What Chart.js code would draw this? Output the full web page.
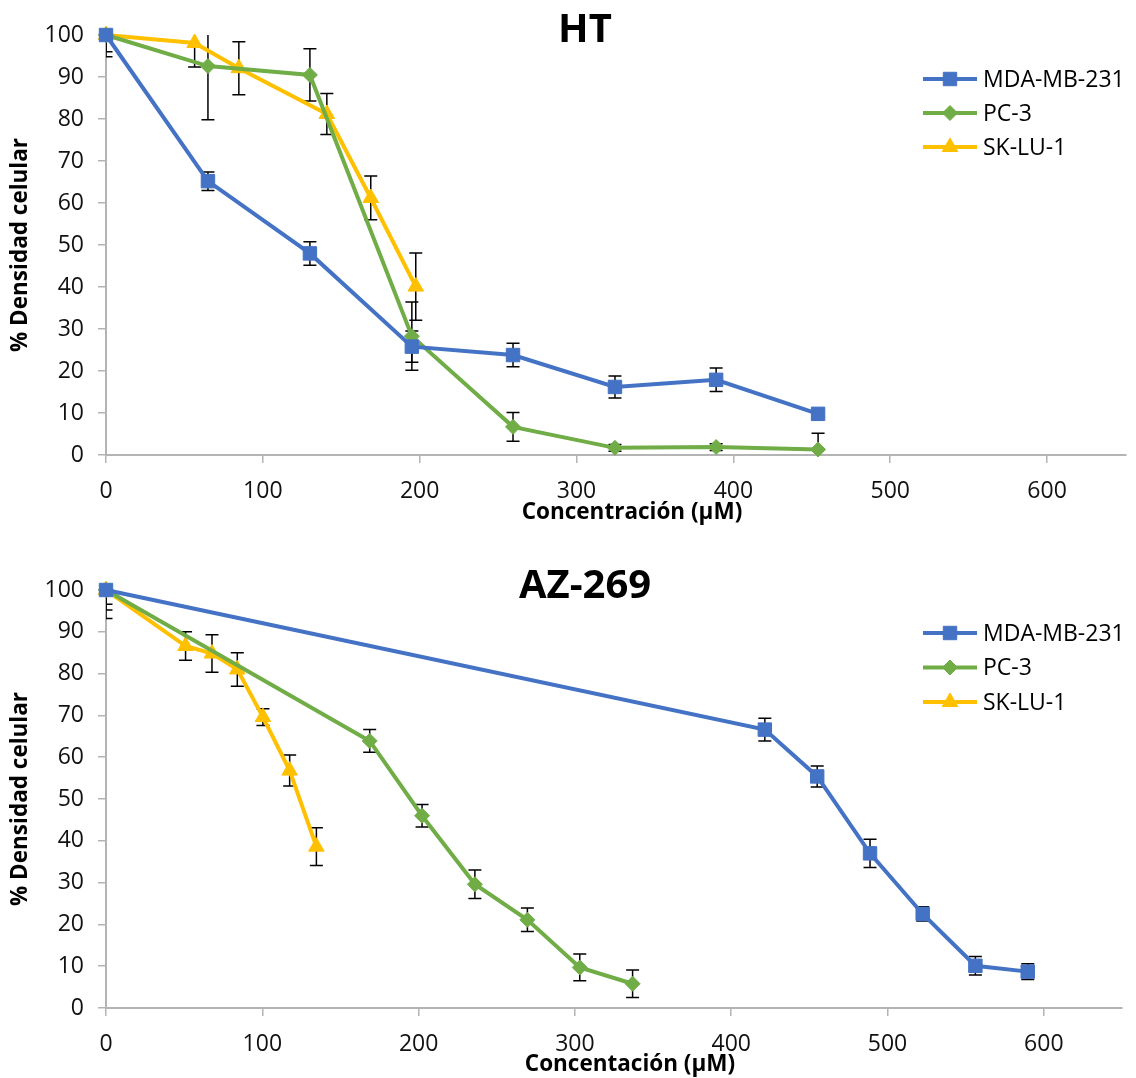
<!DOCTYPE html>
<html>
<head>
<meta charset="utf-8">
<script src="https://cdn.jsdelivr.net/npm/chart.js@4.4.1/dist/chart.umd.min.js"></script>
<style>
  html, body { margin: 0; padding: 0; background: #ffffff; }
  .wrap { position: absolute; left: 0; width: 1136px; }
  #w1 { top: 0; height: 540px; }
  #w2 { top: 540px; height: 538px; }
</style>
</head>
<body>
<div class="wrap" id="w1"><canvas id="c1"></canvas></div>
<div class="wrap" id="w2"><canvas id="c2"></canvas></div>
<script>
// ---------------- DATA ----------------
const seriesNames = ['MDA-MB-231', 'PC-3', 'SK-LU-1'];
const yTickValues = [0, 10, 20, 30, 40, 50, 60, 70, 80, 90, 100];
const xTickValues = [0, 100, 200, 300, 400, 500, 600];

// HT
const htMdaConc = [0, 65, 130, 195, 259.5, 324.5, 389, 454];
const htMdaVal  = [100, 65.2, 48.0, 25.8, 23.8, 16.2, 17.9, 9.8];
const htMdaErr  = [5.2, 2.2, 2.8, 3.7, 2.8, 2.6, 2.8, 0.8];

const htPcConc = [0, 65, 130, 195, 259.5, 324.5, 389, 454];
const htPcVal  = [100, 92.6, 90.5, 28.3, 6.7, 1.7, 1.9, 1.3];
const htPcErr  = [4.0, 12.8, 6.2, 8.1, 3.4, 0.8, 0.8, 3.9];

const htSkConc = [0, 56.5, 84.7, 140.8, 168.8, 197.5];
const htSkVal  = [100, 98.1, 92.1, 81.2, 61.2, 40.1];
const htSkErr  = [0.5, 5.7, 6.3, 4.9, 5.2, 8.0];

// AZ-269
const azMdaConc = [0, 421.5, 455, 488.8, 522.5, 556.2, 589.7];
const azMdaVal  = [100, 66.6, 55.4, 37.0, 22.5, 10.1, 8.7];
const azMdaErr  = [6.8, 2.7, 2.5, 3.4, 1.7, 2.2, 1.9];

const azPcConc = [0, 168.7, 202.2, 236, 269.6, 303.1, 336.9];
const azPcVal  = [100, 63.9, 46.0, 29.6, 21.1, 9.7, 5.8];
const azPcErr  = [4.8, 2.7, 2.7, 3.4, 2.8, 3.2, 3.3];

const azSkConc = [0, 50.9, 67.8, 84, 100.4, 117.5, 134.6];
const azSkVal  = [100, 86.6, 84.8, 81.0, 69.6, 56.8, 38.6];
const azSkErr  = [3.4, 3.4, 4.5, 4.0, 2.0, 3.7, 4.5];

// ---------------- STYLE ----------------
const FONT = "'Open Sans', 'Liberation Sans', sans-serif";
const COLORS = ['#4472C4', '#70AD47', '#FFC000'];
const STYLES = ['rect', 'rectRot', 'triangle'];
const RADII = [9.5, 7.5, 9];
const AXIS_GRAY = '#b4b4b4';

function pts(xs, ys) { return xs.map((x, i) => ({ x: x, y: ys[i] })); }

function makeDataset(i, xs, ys, errs) {
  return {
    label: seriesNames[i],
    data: pts(xs, ys),
    errors: errs,
    borderColor: COLORS[i],
    backgroundColor: COLORS[i],
    pointBackgroundColor: COLORS[i],
    pointBorderColor: COLORS[i],
    pointStyle: STYLES[i],
    pointRadius: RADII[i],
    pointBorderWidth: 1,
    borderWidth: 4,
    tension: 0,
    clip: false
  };
}

const errorBarPlugin = {
  id: 'errorBars',
  beforeDatasetsDraw(chart) {
    const { ctx, chartArea: a } = chart;
    const xs = chart.scales.x, ys = chart.scales.y;
    ctx.save();
    ctx.beginPath();
    ctx.rect(a.left, a.top, a.right - a.left, a.bottom - a.top);
    ctx.clip();
    ctx.strokeStyle = '#000';
    ctx.lineWidth = 1.5;
    chart.data.datasets.forEach(ds => {
      ds.data.forEach((p, i) => {
        const e = ds.errors[i];
        if (!e) return;
        const px = xs.getPixelForValue(p.x);
        const y1 = ys.getPixelForValue(p.y + e);
        const y2 = ys.getPixelForValue(p.y - e);
        ctx.beginPath();
        ctx.moveTo(px, y1); ctx.lineTo(px, y2);
        ctx.moveTo(px - 6.5, y1); ctx.lineTo(px + 6.5, y1);
        ctx.moveTo(px - 6.5, y2); ctx.lineTo(px + 6.5, y2);
        ctx.stroke();
      });
    });
    ctx.restore();
  }
};

function overlayPlugin(o) {
  return {
    id: 'overlay',
    afterDraw(chart) {
      const ctx = chart.ctx;
      ctx.save();
      // chart title
      ctx.fillStyle = '#000';
      ctx.font = 'bold 40px ' + FONT;
      ctx.textAlign = 'center';
      ctx.textBaseline = 'middle';
      ctx.fillText(o.title, o.titleX, o.titleY);
      // x axis title
      ctx.font = 'bold 22.5px ' + FONT;
      ctx.fillText(o.xTitle, o.xTitleX, o.xTitleY);
      // legend
      chart.data.datasets.forEach((ds, i) => {
        const yy = o.legY + i * o.legDy;
        ctx.strokeStyle = ds.borderColor;
        ctx.lineWidth = 4;
        ctx.beginPath();
        ctx.moveTo(o.legX, yy);
        ctx.lineTo(o.legX + 54, yy);
        ctx.stroke();
        ctx.fillStyle = ds.pointBackgroundColor;
        ctx.strokeStyle = ds.pointBorderColor;
        ctx.lineWidth = 1;
        Chart.helpers.drawPoint(ctx, { pointStyle: ds.pointStyle, radius: ds.pointRadius, rotation: 0, borderWidth: 1 }, o.legX + 27, yy);
        ctx.fillStyle = '#000';
        ctx.font = '23px ' + FONT;
        ctx.textAlign = 'left';
        ctx.textBaseline = 'middle';
        ctx.fillText(ds.label, o.legX + 60, yy + 1);
      });
      ctx.restore();
    }
  };
}

function makeChart(canvasId, datasets, opts) {
  return new Chart(document.getElementById(canvasId), {
    type: 'line',
    data: { datasets: datasets },
    options: {
      responsive: true,
      maintainAspectRatio: false,
      animation: false,
      layout: { padding: { top: opts.top, right: opts.right, left: 0, bottom: 0 } },
      plugins: { legend: { display: false }, title: { display: false }, tooltip: { enabled: false } },
      scales: {
        x: {
          type: 'linear',
          min: 0, max: 650,
          afterFit: s => { s.height = opts.xHeight; },
          afterBuildTicks: s => { s.ticks = xTickValues.map(v => ({ value: v })); },
          ticks: { stepSize: 100, includeBounds: false, color: '#111', padding: 15, font: { family: FONT, size: 23 } },
          grid: { display: true, drawOnChartArea: false, drawTicks: true, tickLength: 8, color: AXIS_GRAY, lineWidth: 1.5 },
          border: { display: true, color: AXIS_GRAY, width: 2 },
          title: { display: false }
        },
        y: {
          type: 'linear',
          min: 0, max: 100,
          afterFit: s => { s.width = 106; },
          afterBuildTicks: s => { s.ticks = yTickValues.map(v => ({ value: v })); },
          ticks: { stepSize: 10, color: '#111', padding: 14, font: { family: FONT, size: 23 } },
          grid: { display: true, drawOnChartArea: false, drawTicks: true, tickLength: 8, color: AXIS_GRAY, lineWidth: 1.5 },
          border: { display: true, color: AXIS_GRAY, width: 2 },
          title: { display: true, text: '% Densidad celular', color: '#000', font: { family: FONT, size: 22.5, weight: 'bold' }, padding: { top: 7, bottom: 0 } }
        }
      }
    },
    plugins: [errorBarPlugin, overlayPlugin(opts)]
  });
}

makeChart('c1', [
  makeDataset(0, htMdaConc, htMdaVal, htMdaErr),
  makeDataset(1, htPcConc, htPcVal, htPcErr),
  makeDataset(2, htSkConc, htSkVal, htSkErr)
], { top: 35, right: 9, xHeight: 85, xTitle: 'Concentración (µM)', xTitleX: 632, xTitleY: 513,
     title: 'HT', titleX: 585, titleY: 31, legX: 923, legY: 79, legDy: 34 });

makeChart('c2', [
  makeDataset(0, azMdaConc, azMdaVal, azMdaErr),
  makeDataset(1, azPcConc, azPcVal, azPcErr),
  makeDataset(2, azSkConc, azSkVal, azSkErr)
], { top: 50, right: 14, xHeight: 70, xTitle: 'Concentación (µM)', xTitleX: 630, xTitleY: 525,
     title: 'AZ-269', titleX: 585, titleY: 47, legX: 923, legY: 93, legDy: 34.5 });
</script>
</body>
</html>
